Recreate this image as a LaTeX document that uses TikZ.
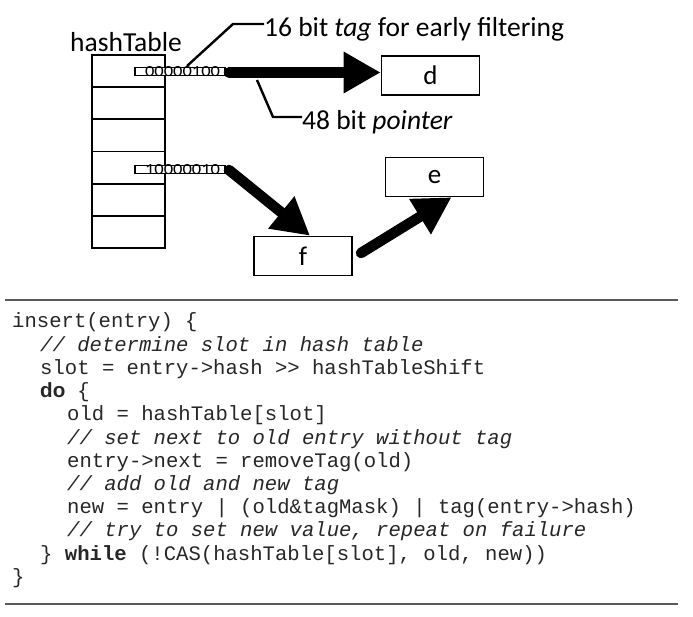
\documentclass[tikz,border=0pt]{standalone}
\usepackage{fontspec}
\usepackage{graphicx}
\setmainfont{Carlito}
\setsansfont{Liberation Sans}
\newfontfamily\codefont{Liberation Mono}
\usetikzlibrary{arrows.meta,calc}
\tikzset{
  cell/.style={draw,line width=1.8pt,minimum width=73pt,minimum height=32.2pt,inner sep=0pt},
  objbox/.style={draw,line width=1.6pt,minimum width=98pt,minimum height=39pt,inner sep=0pt,font=\fontsize{27}{30}\selectfont},
  tagbox/.style={draw,fill=white,line width=1.3pt,minimum width=90pt,minimum height=7.5pt,inner sep=0pt},
  tagtext/.style={inner sep=0pt},
  ptr/.style={line width=10.5pt,line cap=round,-{Triangle[length=37pt,width=39pt]}},
  callout/.style={line width=2.4pt},
  lbl/.style={anchor=base west,inner sep=0pt,font=\fontsize{27.5}{30}\selectfont},
  codeline/.style={anchor=base west,inner sep=0pt,font=\codefont\fontsize{20.6}{24}\selectfont,text=black!85},
  rule/.style={line width=1.6pt,draw=black!65},
}
\newcommand{\kw}[2]{\makebox[#1][l]{\sffamily\bfseries #2}}
\begin{document}
\begin{tikzpicture}[x=1pt,y=-1pt]
\useasboundingbox (0,0) rectangle (693,617);
% hash table
\node[lbl] (ht) at (70,52) {hashTable};
\foreach \i in {0,...,5} {
  \node[cell] (r\i) at (128.5,{71.1+32.2*\i}) {};
}
% tag boxes
\node[tagbox] (tag1) at (180,71.5) {};
\node[tagtext] (tagt1) at (182.5,71.5) {\resizebox{75pt}{10pt}{00000100}};
\node[tagbox] (tag2) at (180,169.5) {};
\node[tagtext] (tagt2) at (182.5,169.5) {\resizebox{75pt}{10pt}{10000010}};
% objects
\node[objbox] (d) at (430.5,75.5) {d};
\node[objbox] (e) at (434.5,177) {e};
\node[objbox] (f) at (303,256) {f};
% pointers
\coordinate (p1) at (229,72.5);
\coordinate (p2) at (229,170);
\coordinate (p3) at (361,253);
\draw[ptr] (p1) -- (p1 -| d.west);
\draw[ptr] (p2) -- ([xshift=7pt]f.north);
\draw[ptr] (p3) -- ([xshift=17pt]e.south);
% callouts
\node[lbl] (lt) at (264,37) {16 bit \textit{tag} for early filtering};
\node[lbl] (lp) at (302,129.5) {48 bit \textit{pointer}};
\coordinate (c1) at (187,66);
\coordinate (c2) at (257,80);
\draw[callout] (c1) -- (233,24) -- (lt.west |- 0,24);
\draw[callout] (c2) -- (273,117) -- (lp.west |- 0,117);
% code
\draw[rule] (5,300) -- (678,300);
\draw[rule] (5,604) -- (678,604);
\node[codeline] (l1) at (12,328) {insert(entry) \{};
\node[codeline] (l2) at (40,351.2) {\itshape // determine slot in hash table};
\node[codeline] (l3) at (40,374.4) {slot = entry->hash >> hashTableShift};
\node[codeline] (l4) at (40,397.6) {\kw{1.2em}{do} \{};
\node[codeline] (l5) at (67,420.8) {old = hashTable[slot]};
\node[codeline] (l6) at (67,444) {\itshape // set next to old entry without tag};
\node[codeline] (l7) at (67,467.2) {entry->next = removeTag(old)};
\node[codeline] (l8) at (67,490.4) {\itshape // add old and new tag};
\node[codeline] (l9) at (67,513.6) {new = entry | (old\&tagMask) | tag(entry->hash)};
\node[codeline] (l10) at (67,536.8) {\itshape // try to set new value, repeat on failure};
\node[codeline] (l11) at (40,560) {\} {\bfseries while} (!CAS(hashTable[slot], old, new))};
\node[codeline] (l12) at (12,583.2) {\}};
\end{tikzpicture}
\end{document}
